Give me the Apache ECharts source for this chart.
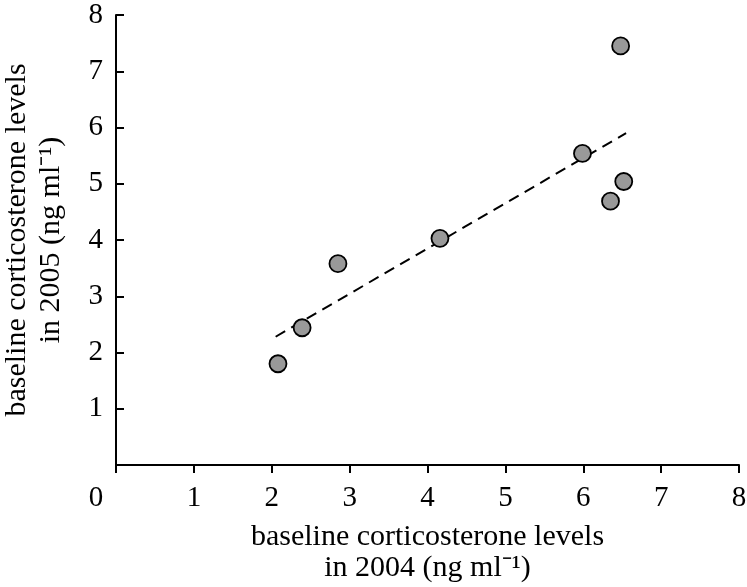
<!DOCTYPE html>
<html>
<head>
<meta charset="utf-8">
<script src="https://cdn.jsdelivr.net/npm/echarts@6/dist/echarts.min.js"></script>
<style>html,body{margin:0;padding:0;background:#fff;}#c{width:747px;height:587px;}</style>
</head>
<body>
<div id="c"></div>
<script>
const xValues = [2.08, 2.39, 2.85, 4.16, 5.99, 6.35, 6.52, 6.48];
const yValues = [1.80, 2.44, 3.58, 4.03, 5.54, 4.69, 5.04, 7.45];
const fitX = [2.05, 6.55];
const fitY = [2.28, 5.90];
const xAxisName = 'baseline corticosterone levels\nin 2004 (ng ml\u207B\u00B9)';
const yAxisName = 'baseline corticosterone levels\nin 2005 (ng ml\u207B\u00B9)';

const font = '"Liberation Serif", "Times New Roman", Times, serif';
const chart = echarts.init(document.getElementById('c'), null, {renderer: 'canvas'});
chart.setOption({
  animation: false,
  backgroundColor: '#fff',
  grid: {left: 116, right: 8, top: 15, bottom: 122, containLabel: false, outerBoundsMode: 'none'},
  xAxis: {
    type: 'value', min: 0, max: 8, interval: 1,
    name: xAxisName, nameLocation: 'middle', nameGap: 57,
    nameTextStyle: {fontFamily: font, fontSize: 30, color: '#000', lineHeight: 31},
    axisLine: {show: true, lineStyle: {color: '#000', width: 2}},
    axisTick: {show: true, inside: false, length: 8, lineStyle: {color: '#000', width: 2}},
    axisLabel: {
      fontFamily: font, fontSize: 29, color: '#000', margin: 19,
      formatter: function (v) { return v === 0 ? '{z|0}' : String(v); },
      rich: {z: {fontFamily: font, fontSize: 29, color: '#000', padding: [0, 40, 0, 0]}}
    },
    splitLine: {show: false}
  },
  yAxis: {
    type: 'value', min: 0, max: 8, interval: 1,
    name: yAxisName, nameLocation: 'middle', nameGap: 48,
    nameTextStyle: {fontFamily: font, fontSize: 30, color: '#000', lineHeight: 34},
    axisLine: {show: true, lineStyle: {color: '#000', width: 2}},
    axisTick: {show: true, inside: true, length: 8, lineStyle: {color: '#000', width: 2}},
    axisLabel: {
      fontFamily: font, fontSize: 29, color: '#000', margin: 13,
      formatter: function (v) { return v === 0 ? '' : String(v); }
    },
    splitLine: {show: false}
  },
  series: [
    {
      type: 'line',
      data: fitX.map((x, i) => [x, fitY[i]]),
      symbol: 'none',
      lineStyle: {color: '#000', width: 2, type: [11, 7]},
      z: 2
    },
    {
      type: 'scatter',
      data: xValues.map((x, i) => [x, yValues[i]]),
      symbol: 'circle',
      symbolSize: 17,
      itemStyle: {color: '#999999', borderColor: '#000', borderWidth: 1.8, opacity: 1},
      z: 3
    }
  ]
});
</script>
</body>
</html>
